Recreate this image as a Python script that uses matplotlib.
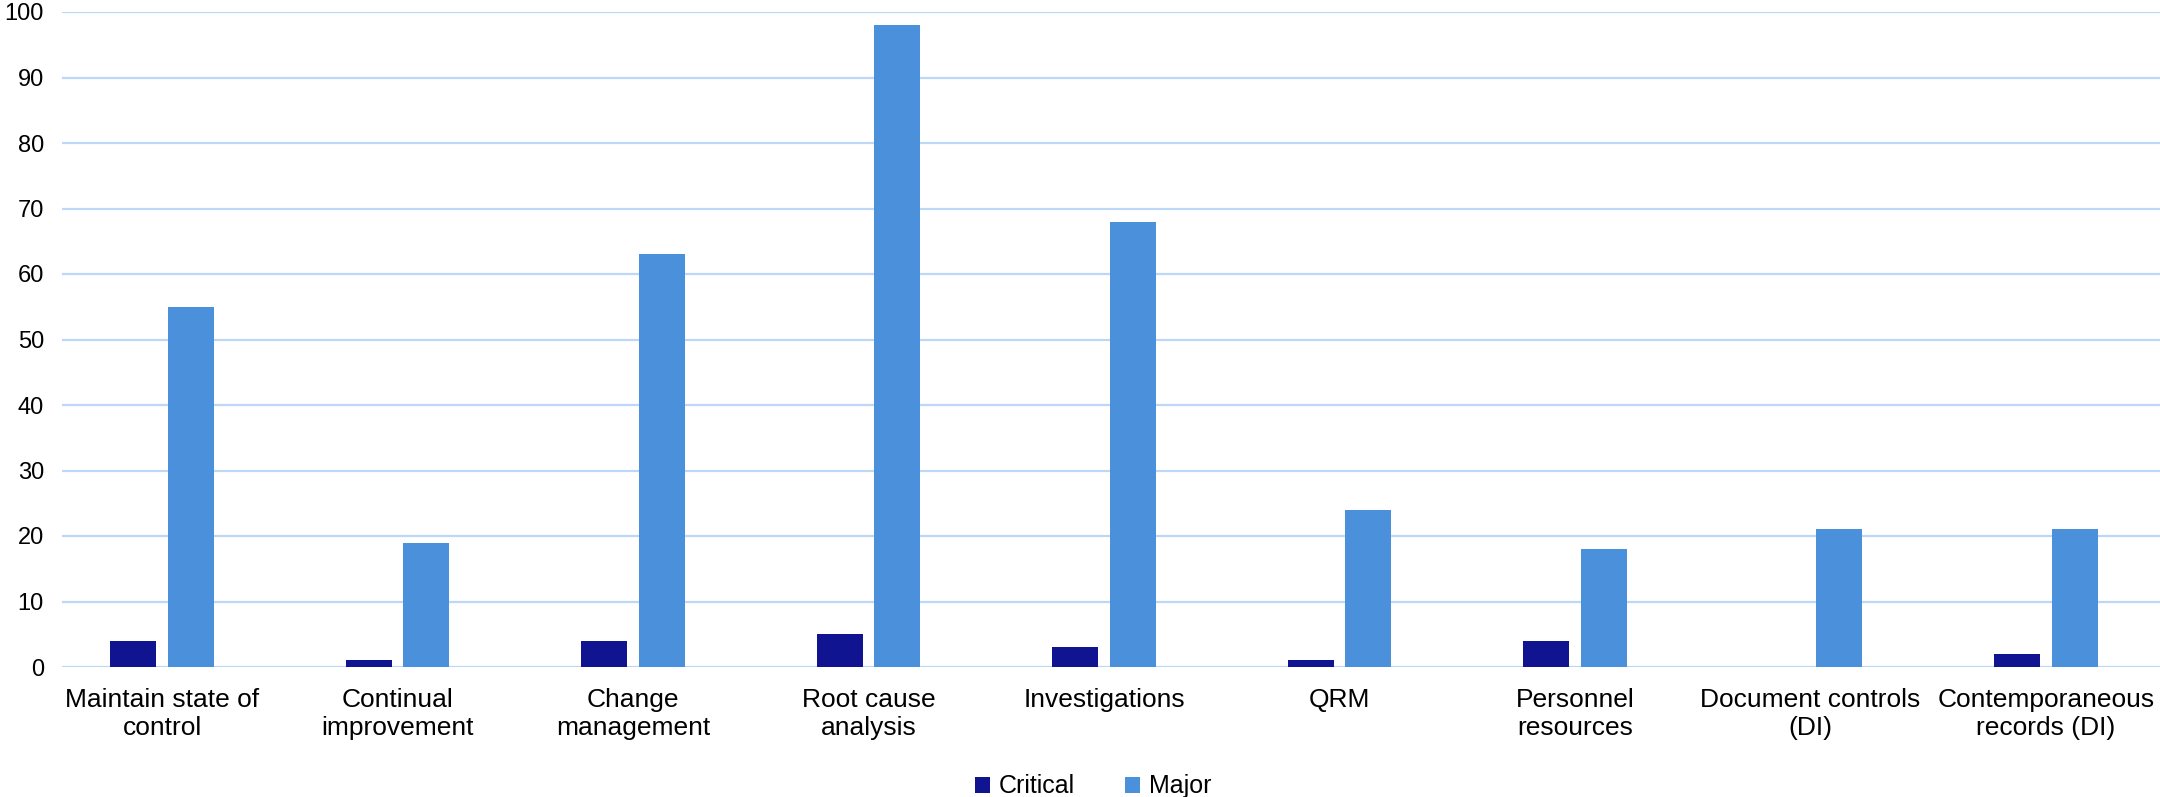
import numpy as np
from matplotlib import pyplot as plt

categories = ['Maintain state of\ncontrol', 'Continual\nimprovement', 'Change\nmanagement',
              'Root cause\nanalysis', 'Investigations', 'QRM', 'Personnel\nresources',
              'Document controls\n(DI)', 'Contemporaneous\nrecords (DI)']
critical = [4, 1, 4, 5, 3, 1, 4, 0, 2]
major = [55, 19, 63, 98, 68, 24, 18, 21, 21]
y_ticks = [0, 10, 20, 30, 40, 50, 60, 70, 80, 90, 100]

plt.rcParams['font.family'] = ['Liberation Sans', 'DejaVu Sans']

fig = plt.figure(figsize=(21.6, 7.97), dpi=100)
ax = fig.add_axes([62 / 2160, 130 / 797, 1 - 62 / 2160, 655 / 797])

x = np.arange(len(categories))
w = 0.195
ax.bar(x - 0.122, critical, w, color='#101490', label='Critical', zorder=3)
ax.bar(x + 0.122, major, w, color='#4A90DA', label='Major', zorder=3)

ax.set_xlim(-0.425, 8.484)
ax.set_ylim(0, 100)
ax.set_yticks(y_ticks)
ax.set_xticks(x)
ax.set_xticklabels(categories, fontsize=19, linespacing=1.2)
ax.tick_params(axis='y', labelsize=17, length=0, pad=13)
ax.tick_params(axis='x', length=0, pad=15)
ax.grid(axis='y', color='#BDD7F7', lw=1.6, zorder=0)
ax.set_axisbelow(True)
for s in ax.spines.values():
    s.set_visible(False)

fig.legend(loc='lower center', bbox_to_anchor=(0.506, -0.03), ncol=2, frameon=False,
           fontsize=18, handlelength=0.6, handleheight=0.6, handletextpad=0.35,
           columnspacing=2.0)

plt.savefig('out.png')
